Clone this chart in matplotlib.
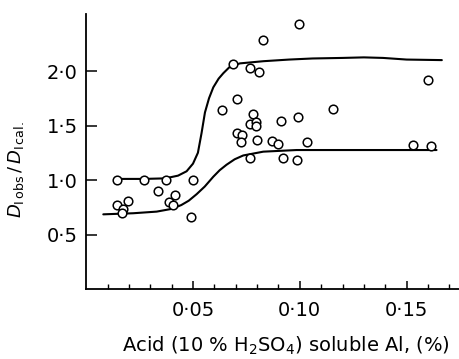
import matplotlib
matplotlib.use("Agg")
import matplotlib.pyplot as plt
import numpy as np
from matplotlib.ticker import FixedLocator, MultipleLocator

# Observed points: Acid soluble Al (%) vs D_I obs / D_I cal.
acid_al = [0.0143, 0.0270, 0.0373, 0.0501, 0.0335, 0.0146, 0.0194, 0.0174,
           0.0166, 0.0416, 0.0389, 0.0408, 0.0490, 0.0997, 0.0829, 0.0688,
           0.0767, 0.0807, 0.0707, 0.0634, 0.0779, 0.0767, 0.0795, 0.0795,
           0.0910, 0.0991, 0.1156, 0.0704, 0.0728, 0.0724, 0.0798, 0.0868,
           0.0896, 0.1032, 0.0767, 0.0922, 0.0985, 0.1598, 0.1529, 0.1612]
d_ratio = [1.00, 1.00, 1.00, 1.00, 0.90, 0.77, 0.81, 0.73,
           0.70, 0.86, 0.80, 0.77, 0.66, 2.43, 2.28, 2.06,
           2.03, 1.99, 1.74, 1.64, 1.61, 1.51, 1.535, 1.495,
           1.54, 1.58, 1.65, 1.43, 1.41, 1.35, 1.37, 1.36,
           1.33, 1.35, 1.20, 1.205, 1.18, 1.915, 1.32, 1.315]

# Upper envelope curve
upper_x = [0.0143, 0.027, 0.037, 0.043, 0.047, 0.050, 0.0523, 0.054, 0.0556,
           0.0575, 0.0595, 0.0620, 0.0642, 0.0673, 0.072, 0.083, 0.095, 0.106,
           0.120, 0.130, 0.139, 0.150, 0.1665]
upper_y = [1.01, 1.01, 1.015, 1.04, 1.08, 1.15, 1.25, 1.43, 1.62,
           1.75, 1.85, 1.93, 1.98, 2.04, 2.07, 2.09, 2.105, 2.115,
           2.12, 2.125, 2.12, 2.105, 2.10]

# Lower envelope curve
lower_x = [0.008, 0.022, 0.033, 0.040, 0.0445, 0.048, 0.0517, 0.0555, 0.0595,
           0.0625, 0.0657, 0.0695, 0.0735, 0.0829, 0.0985, 0.120, 0.164]
lower_y = [0.685, 0.695, 0.71, 0.735, 0.77, 0.81, 0.87, 0.94, 1.03,
           1.09, 1.14, 1.19, 1.225, 1.26, 1.275, 1.275, 1.275]

x_major = [0.05, 0.10, 0.15]
x_major_labels = ["0·05", "0·10", "0·15"]
y_major = [0.5, 1.0, 1.5, 2.0]
y_major_labels = ["0·5", "1·0", "1·5", "2·0"]

W, H = 460, 359
fig = plt.figure(figsize=(W / 100, H / 100), dpi=100)
left, bottom, top = 86.2, 289.0, 14.0
ax = fig.add_axes([left / W, (H - bottom) / H, (W - left) / W, (bottom - top) / H])

ax.plot(upper_x, upper_y, color="black", lw=1.5, solid_capstyle="round")
ax.plot(lower_x, lower_y, color="black", lw=1.5, solid_capstyle="round")
ax.plot(acid_al, d_ratio, linestyle="none", marker="o", markersize=6.2,
        markerfacecolor="white", markeredgecolor="black", markeredgewidth=1.1)

ax.set_xlim(0, 0.175)
ax.set_ylim(0, 2.523)

for s in ["top", "right"]:
    ax.spines[s].set_visible(False)
for s in ["left", "bottom"]:
    ax.spines[s].set_linewidth(1.3)

ax.xaxis.set_major_locator(FixedLocator(x_major))
ax.set_xticklabels(x_major_labels)
ax.xaxis.set_minor_locator(FixedLocator([0.01 * i for i in range(1, 18) if i % 5 != 0]))
ax.yaxis.set_major_locator(FixedLocator(y_major))
ax.set_yticklabels(y_major_labels)

ax.tick_params(axis="x", which="major", direction="in", length=6, width=1.1,
               labelsize=14, pad=9)
ax.tick_params(axis="x", which="minor", direction="in", length=3.5, width=1.0)
ax.tick_params(axis="y", which="major", direction="in", length=8, width=1.1,
               labelsize=14, pad=6)

ax.set_xlabel(r"Acid (10 % H$_2$SO$_4$) soluble Al, (%)", fontsize=14, labelpad=9)
ax.xaxis.set_label_coords(0.534, -0.165)
fig.text(16 / W, 1 - 170 / H, r"$D_{\mathrm{I\,obs}}\,/\,D_{\mathrm{I\,cal.}}$",
         rotation=90, ha="center", va="center", fontsize=13)

fig.savefig("out.png", dpi=100)
